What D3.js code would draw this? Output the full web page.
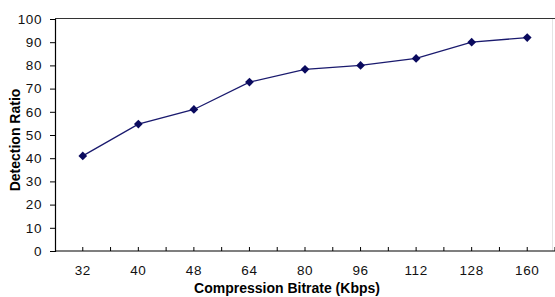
<!DOCTYPE html>
<html>
<head>
<meta charset="utf-8">
<script src="https://cdn.jsdelivr.net/npm/d3@7"></script>
<style>
  body { margin: 0; background: #fff; }
  svg { display: block; font-family: "Liberation Sans", Arial, sans-serif; }
</style>
</head>
<body>
<div id="chart"></div>
<script>
// data
const bitrates = ["32", "40", "48", "64", "80", "96", "112", "128", "160"];
const detectionRatio = [41, 54.7, 61, 72.8, 78.3, 80, 83, 90, 92];
const yTicks = [0, 10, 20, 30, 40, 50, 60, 70, 80, 90, 100];

const width = 555, height = 297;
const margin = {top: 19, right: 0, bottom: 46, left: 55};

const svg = d3.select("#chart").append("svg")
    .attr("width", width)
    .attr("height", height);

const x = d3.scaleBand()
    .domain(bitrates)
    .range([margin.left, width - margin.right]);

const y = d3.scaleLinear()
    .domain([0, 100])
    .range([height - margin.bottom, margin.top]);

// frame: top line dark, right edge faint
svg.append("line")
    .attr("x1", margin.left).attr("x2", width)
    .attr("y1", y(100) - 0.5).attr("y2", y(100) - 0.5)
    .attr("stroke", "#333").attr("stroke-width", 1.2);
svg.append("line")
    .attr("x1", 552.5).attr("x2", 552.5)
    .attr("y1", y(100)).attr("y2", y(0))
    .attr("stroke", "#e4e4e4");

// y axis
const yAxis = svg.append("g")
    .attr("transform", `translate(${margin.left},0)`)
    .call(d3.axisLeft(y).tickValues(yTicks).tickSize(5).tickPadding(8));
yAxis.select(".domain").attr("stroke", "#000").attr("stroke-width", 1.2);
yAxis.selectAll(".tick line").attr("stroke", "#000");
yAxis.selectAll("text")
    .attr("font-size", 13.5).attr("fill", "#111")
    .attr("letter-spacing", 0.6)
    .attr("font-family", "Liberation Sans, Arial, sans-serif");

// x axis: ticks at band edges and centres, pointing up into the plot
const xAxis = svg.append("g")
    .attr("transform", `translate(0,${y(0)})`)
    .call(d3.axisBottom(x).tickSize(0).tickPadding(14));
xAxis.select(".domain").attr("stroke", "#000").attr("stroke-width", 1.2)
    .attr("d", `M${margin.left},0H${width}`);
xAxis.selectAll("text")
    .attr("font-size", 13.5).attr("fill", "#111")
    .attr("letter-spacing", 0.6)
    .attr("font-family", "Liberation Sans, Arial, sans-serif");

const halfSteps = [];
bitrates.forEach(b => {
    halfSteps.push(x(b));
    halfSteps.push(x(b) + x.bandwidth() / 2);
});
halfSteps.push(width - margin.right);
xAxis.selectAll(".minor")
    .data(halfSteps.slice(1))
    .enter().append("line")
    .attr("class", "minor")
    .attr("x1", d => d).attr("x2", d => d)
    .attr("y1", 0).attr("y2", -4)
    .attr("stroke", "#000");

// series line
const cx = b => x(b) + x.bandwidth() / 2;
const points = bitrates.map((b, i) => ({b: b, v: detectionRatio[i]}));

svg.append("path")
    .datum(points)
    .attr("fill", "none")
    .attr("stroke", "#1a1a6e")
    .attr("stroke-width", 1.3)
    .attr("d", d3.line().x(d => cx(d.b)).y(d => y(d.v)));

// square markers turned 45 degrees
svg.selectAll(".pt")
    .data(points)
    .enter().append("path")
    .attr("class", "pt")
    .attr("transform", d => `translate(${cx(d.b)},${y(d.v)}) rotate(45)`)
    .attr("d", d3.symbol().type(d3.symbolSquare).size(38))
    .attr("fill", "#0a0a5e");

// axis titles
svg.append("text")
    .attr("x", 287).attr("y", 293)
    .attr("text-anchor", "middle")
    .attr("font-size", 14).attr("font-weight", "bold")
    .text("Compression Bitrate (Kbps)");

svg.append("text")
    .attr("transform", `translate(20,${(y(0) + y(100)) / 2 + 5}) rotate(-90)`)
    .attr("text-anchor", "middle")
    .attr("font-size", 14).attr("font-weight", "bold")
    .text("Detection Ratio");
</script>
</body>
</html>
